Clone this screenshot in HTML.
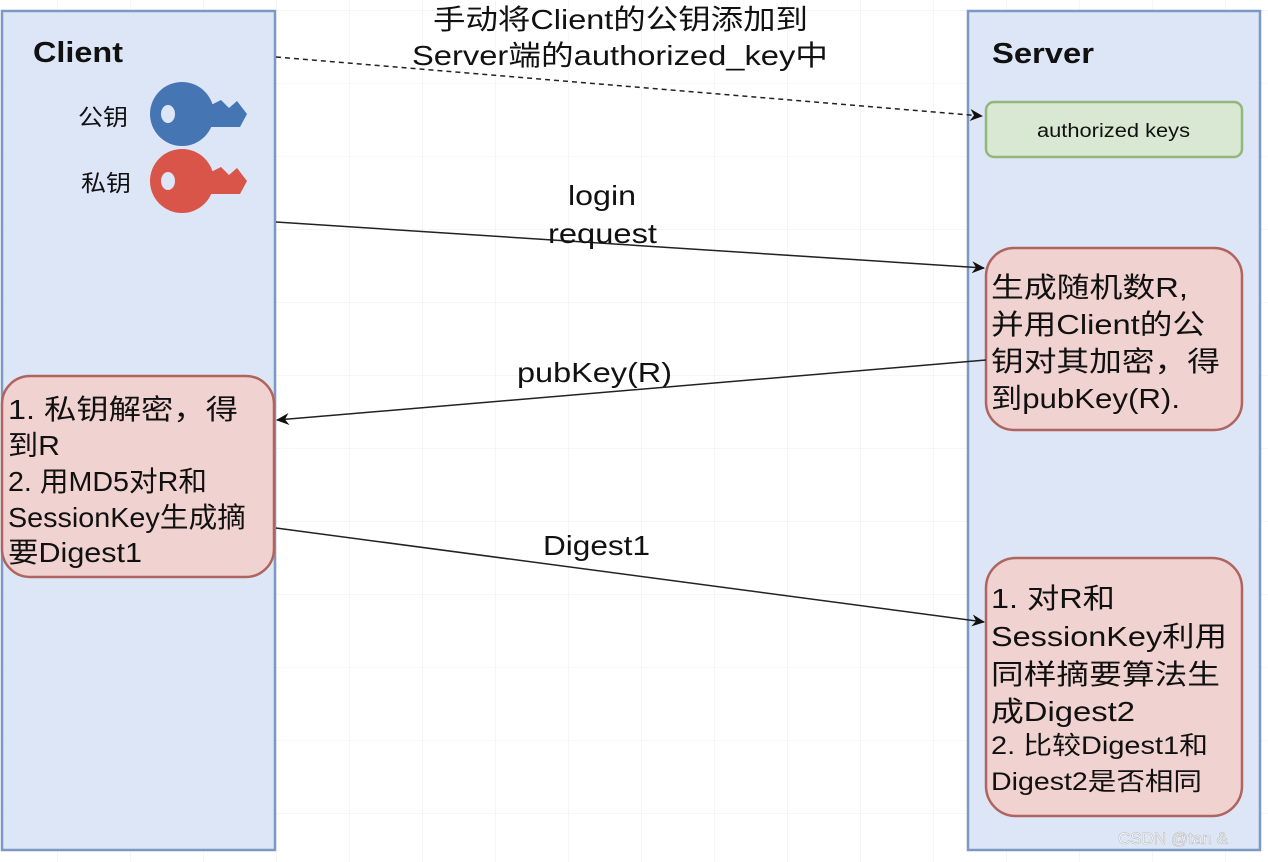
<!DOCTYPE html>
<html><head><meta charset="utf-8"><style>
html,body{margin:0;padding:0;background:#fff}
svg{display:block}
text{font-family:"Liberation Sans","Noto Sans CJK SC",sans-serif;fill:#111}
</style></head><body>
<svg width="1268" height="862" viewBox="0 0 1268 862" xmlns="http://www.w3.org/2000/svg">
<defs>
<pattern id="g" x="57" y="10" width="73" height="73" patternUnits="userSpaceOnUse">
<path d="M0 0V73M0 0H73" stroke="#ececec" stroke-width="1" fill="none"/>
</pattern>
<marker id="a" markerWidth="14" markerHeight="14" refX="12" refY="7" orient="auto" markerUnits="userSpaceOnUse">
<path d="M0 1 L13 7 L0 13 L4 7Z" fill="#111"/>
</marker>
</defs>
<rect width="1268" height="862" fill="url(#g)"/>
<!-- Client -->
<rect x="2" y="11" width="273" height="839" fill="#dde6f6" stroke="#7d98c3" stroke-width="2.5"/>
<text x="33" y="62" font-size="29" font-weight="bold" textLength="90" lengthAdjust="spacingAndGlyphs">Client</text>
<text x="78" y="125" font-size="23" textLength="50" lengthAdjust="spacingAndGlyphs">公钥</text>
<text x="81" y="191" font-size="23" textLength="50" lengthAdjust="spacingAndGlyphs">私钥</text>
<g fill="#4675b4">
<circle cx="182" cy="114" r="32"/>
<path d="M200 104 H213 L221 100 L229 108 L237 101 L247 114 L240 127 H200Z"/>
</g>
<ellipse cx="168" cy="114" rx="7" ry="9" fill="#dde6f6"/>
<g fill="#d95449">
<circle cx="182" cy="181" r="32"/>
<path d="M200 171 H213 L221 167 L229 175 L237 168 L247 181 L240 194 H200Z"/>
</g>
<ellipse cx="168" cy="181" rx="7" ry="9" fill="#dde6f6"/>
<rect x="2" y="376" width="272" height="201" rx="28" fill="#f0d2d0" stroke="#b0645f" stroke-width="2.5"/>
<g font-size="28">
<text x="8" y="419" textLength="230" lengthAdjust="spacingAndGlyphs">1. 私钥解密，得</text>
<text x="8" y="455" textLength="52" lengthAdjust="spacingAndGlyphs">到R</text>
<text x="8" y="491" textLength="199" lengthAdjust="spacingAndGlyphs">2. 用MD5对R和</text>
<text x="8" y="527" textLength="238" lengthAdjust="spacingAndGlyphs">SessionKey生成摘</text>
<text x="8" y="562" textLength="134" lengthAdjust="spacingAndGlyphs">要Digest1</text>
</g>
<!-- Server -->
<rect x="968" y="11" width="292" height="839" fill="#dde6f6" stroke="#7d98c3" stroke-width="2.5"/>
<text x="992" y="63" font-size="29" font-weight="bold" textLength="102" lengthAdjust="spacingAndGlyphs">Server</text>
<rect x="986" y="102" width="256" height="55" rx="8" fill="#d9e8d2" stroke="#93b67a" stroke-width="2.5"/>
<text x="1037" y="137" font-size="19" textLength="153" lengthAdjust="spacingAndGlyphs">authorized keys</text>
<rect x="986" y="248" width="256" height="182" rx="28" fill="#f0d2d0" stroke="#b0645f" stroke-width="2.5"/>
<g font-size="28">
<text x="991" y="297" textLength="197" lengthAdjust="spacingAndGlyphs">生成随机数R,</text>
<text x="991" y="334" textLength="214" lengthAdjust="spacingAndGlyphs">并用Client的公</text>
<text x="991" y="371" textLength="229" lengthAdjust="spacingAndGlyphs">钥对其加密，得</text>
<text x="991" y="408" textLength="189" lengthAdjust="spacingAndGlyphs">到pubKey(R).</text>
</g>
<rect x="986" y="558" width="256" height="258" rx="30" fill="#f0d2d0" stroke="#b0645f" stroke-width="2.5"/>
<g font-size="28">
<text x="991" y="608" textLength="124" lengthAdjust="spacingAndGlyphs">1. 对R和</text>
<text x="991" y="646" textLength="236" lengthAdjust="spacingAndGlyphs">SessionKey利用</text>
<text x="991" y="684" textLength="229" lengthAdjust="spacingAndGlyphs">同样摘要算法生</text>
<text x="991" y="721" textLength="144" lengthAdjust="spacingAndGlyphs">成Digest2</text>
</g>
<g font-size="25">
<text x="991" y="754" textLength="217" lengthAdjust="spacingAndGlyphs">2. 比较Digest1和</text>
<text x="991" y="790" textLength="211" lengthAdjust="spacingAndGlyphs">Digest2是否相同</text>
</g>
<!-- connectors -->
<line x1="276" y1="57" x2="982" y2="116" stroke="#222" stroke-width="1.5" stroke-dasharray="5,4" marker-end="url(#a)"/>
<g font-size="28">
<text x="433" y="29" textLength="375" lengthAdjust="spacingAndGlyphs">手动将Client的公钥添加到</text>
<text x="412" y="65" textLength="416" lengthAdjust="spacingAndGlyphs">Server端的authorized_key中</text>
</g>
<line x1="276" y1="222" x2="984" y2="268" stroke="#222" stroke-width="1.5" marker-end="url(#a)"/>
<g font-size="28">
<text x="568" y="205" textLength="68" lengthAdjust="spacingAndGlyphs">login</text>
<text x="548" y="243" textLength="109" lengthAdjust="spacingAndGlyphs">request</text>
<text x="517" y="382" textLength="155" lengthAdjust="spacingAndGlyphs">pubKey(R)</text>
<text x="543" y="555" textLength="107" lengthAdjust="spacingAndGlyphs">Digest1</text>
</g>
<line x1="986" y1="360" x2="277" y2="420" stroke="#222" stroke-width="1.5" marker-end="url(#a)"/>
<line x1="276" y1="528" x2="984" y2="622" stroke="#222" stroke-width="1.5" marker-end="url(#a)"/>
<text x="1118" y="844" font-size="17" style="fill:#fff;stroke:#bbb;stroke-width:0.6">CSDN @tan &amp;</text>
</svg>
</body></html>
